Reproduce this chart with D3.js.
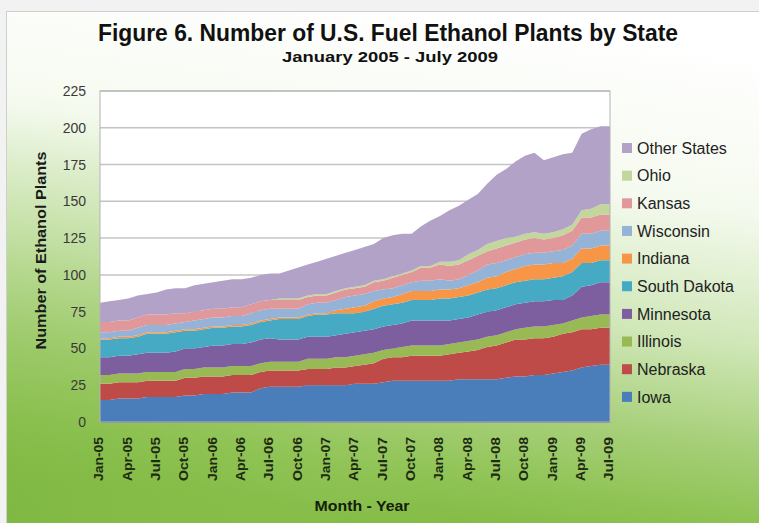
<!DOCTYPE html>
<html>
<head>
<meta charset="utf-8">
<script src="https://cdn.jsdelivr.net/npm/d3@7"></script>
<style>
  html, body { margin: 0; padding: 0; background: #ffffff; }
  svg { display: block; font-family: "Liberation Sans", Arial, Helvetica, sans-serif; }
</style>
</head>
<body>
<svg id="chart" width="759" height="523"></svg>
<script>
// Monthly categories, January 2005 through July 2009
const months = [
  "Jan-05","Feb-05","Mar-05","Apr-05","May-05","Jun-05","Jul-05","Aug-05","Sep-05","Oct-05","Nov-05","Dec-05",
  "Jan-06","Feb-06","Mar-06","Apr-06","May-06","Jun-06","Jul-06","Aug-06","Sep-06","Oct-06","Nov-06","Dec-06",
  "Jan-07","Feb-07","Mar-07","Apr-07","May-07","Jun-07","Jul-07","Aug-07","Sep-07","Oct-07","Nov-07","Dec-07",
  "Jan-08","Feb-08","Mar-08","Apr-08","May-08","Jun-08","Jul-08","Aug-08","Sep-08","Oct-08","Nov-08","Dec-08",
  "Jan-09","Feb-09","Mar-09","Apr-09","May-09","Jun-09","Jul-09"
];

// Labelled months on the category axis
const tickLabels = [
  "Jan-05","Apr-05","Jul-05","Oct-05","Jan-06","Apr-06","Jul-06","Oct-06","Jan-07","Apr-07",
  "Jul-07","Oct-07","Jan-08","Apr-08","Jul-08","Oct-08","Jan-09","Apr-09","Jul-09"
];

const yTicks = [0, 25, 50, 75, 100, 125, 150, 175, 200, 225];

// Plants per state, one value per month (stacked bottom to top)
const iowa = [15,15,16,16,16,17,17,17,17,18, 18,19,19,19,20,20,20,23,24,24, 24,24,25,25,25,25,25,26,26,26,
              27,28,28,28,28,28,28,28,29,29, 29,29,29,30,31,31,32,32,33,34, 35,37,38,39,39];
const nebraska = [11,11,11,11,11,11,11,11,11,12, 12,12,12,12,12,12,12,11,11,11, 11,11,11,11,11,12,12,12,13,14,
                  16,16,16,17,17,17,17,18,18,19, 20,22,23,24,25,25,25,25,25,26, 26,26,25,25,25];
const illinois = [6,6,6,6,6,6,6,6,6,6, 6,6,6,6,6,6,6,6,6,6, 6,6,7,7,7,7,7,7,7,7,
                  6,6,7,7,7,7,7,7,7,7, 7,7,7,7,7,8,8,8,8,7, 8,8,9,9,9];
const minnesota = [12,12,12,12,13,13,13,13,14,14, 14,14,15,15,15,15,16,16,16,15, 15,15,15,15,15,15,16,16,16,16,
                   16,16,16,17,17,17,17,16,16,16, 17,17,17,17,17,17,17,17,17,16, 17,21,21,22,22];
const southDakota = [12,12,12,12,12,13,13,13,13,12, 12,12,12,12,12,12,12,12,12,14, 14,14,14,15,15,15,14,13,13,14,
                     14,14,14,14,14,14,15,15,15,15, 15,15,15,15,15,15,15,15,15,16, 16,16,15,15,15];
const indiana = [1,1,1,1,1,1,1,1,1,1, 1,1,1,1,1,1,1,1,1,1, 1,1,1,1,1,2,3,4,4,5,
                 5,5,6,6,6,6,6,6,6,7, 7,8,8,9,9,10,10,10,10,9, 9,10,10,10,10];
const wisconsin = [4,4,4,4,5,5,5,5,5,5, 6,6,6,6,6,6,7,7,7,6, 6,6,7,7,7,7,8,8,8,7,
                   6,6,6,6,7,7,7,6,6,7, 8,9,9,8,8,8,8,8,8,9, 9,10,10,10,10];
const kansas = [7,7,7,7,7,7,7,7,7,6, 6,6,6,6,6,6,6,6,6,6, 6,6,5,5,5,5,5,5,5,6,
                6,7,7,7,9,9,10,10,10,10, 10,9,10,10,10,10,10,9,9,10, 10,11,11,11,11];
const ohio = [0,0,0,0,0,0,0,0,0,0, 0,0,0,0,0,0,0,0,0,1, 1,1,1,1,1,1,1,1,1,1,
              1,1,1,1,1,1,2,3,3,4, 4,5,5,5,4,4,4,4,4,4, 4,5,6,7,7];
const otherStates = [13,14,14,15,15,14,15,17,17,17, 18,18,18,19,19,19,18,18,18,17, 19,21,21,22,24,24,24,25,26,25,
                     28,28,27,25,27,31,31,35,37,37, 38,41,45,47,51,53,54,50,51,51, 49,52,54,53,53];

const seriesNames = ["Iowa","Nebraska","Illinois","Minnesota","South Dakota","Indiana","Wisconsin","Kansas","Ohio","Other States"];
const seriesValues = [iowa, nebraska, illinois, minnesota, southDakota, indiana, wisconsin, kansas, ohio, otherStates];
const seriesColors = ["#4a7ebb","#be4b48","#98b954","#7d5fa0","#46aac5","#f79646","#95b3d7","#e0989a","#c3d69b","#b3a2c7"];

// ---- layout ----
const W = 759, H = 523;
const plot = { left: 100, right: 610, top: 91, bottom: 422 };

const svg = d3.select("#chart");
const defs = svg.append("defs");

// chart-area fill: white at the top fading to green at the bottom
const bg = defs.append("linearGradient")
  .attr("id", "bgGrad")
  .attr("gradientUnits", "userSpaceOnUse")
  .attr("x1", 450).attr("y1", 11)
  .attr("x2", 380).attr("y2", 523);
bg.append("stop").attr("offset", "0").attr("stop-color", "#ffffff");
bg.append("stop").attr("offset", "0.3").attr("stop-color", "#f5faef");
bg.append("stop").attr("offset", "0.56").attr("stop-color", "#d0e7b8");
bg.append("stop").attr("offset", "0.76").attr("stop-color", "#a6cf78");
bg.append("stop").attr("offset", "0.9").attr("stop-color", "#8ec353");
bg.append("stop").attr("offset", "1").attr("stop-color", "#82bb44");

// extra green toward the lower left corner
const glow = defs.append("radialGradient")
  .attr("id", "leftGlow")
  .attr("gradientUnits", "userSpaceOnUse")
  .attr("cx", 0).attr("cy", 523).attr("r", 430);
glow.append("stop").attr("offset", "0").attr("stop-color", "#7db640").attr("stop-opacity", 0.55);
glow.append("stop").attr("offset", "0.6").attr("stop-color", "#8fc354").attr("stop-opacity", 0.3);
glow.append("stop").attr("offset", "1").attr("stop-color", "#a6cf78").attr("stop-opacity", 0);

svg.append("rect").attr("width", W).attr("height", H).attr("fill", "#f2f2f2");
svg.append("rect")
  .attr("x", 6.5).attr("y", 11.5)
  .attr("width", W - 6).attr("height", H - 11)
  .attr("fill", "url(#bgGrad)")
  .attr("stroke", "#cfcfcf");
svg.append("rect")
  .attr("x", 7).attr("y", 12)
  .attr("width", W - 7).attr("height", H - 12)
  .attr("fill", "url(#leftGlow)");

// ---- scales ----
const x = d3.scalePoint().domain(months).range([plot.left, plot.right]);
const y = d3.scaleLinear().domain([0, 225]).range([plot.bottom, plot.top]);

// ---- plot area ----
svg.append("rect")
  .attr("x", plot.left).attr("y", plot.top)
  .attr("width", plot.right - plot.left).attr("height", plot.bottom - plot.top)
  .attr("fill", "#ffffff");

svg.append("g")
  .selectAll("line")
  .data(yTicks.filter(d => d > 0))
  .join("line")
  .attr("x1", plot.left).attr("x2", plot.right)
  .attr("y1", d => y(d)).attr("y2", d => y(d))
  .attr("stroke", "#c4c4c4")
  .attr("stroke-width", 1.5);

// ---- stacked areas ----
const table = months.map((m, i) => {
  const row = { month: m };
  seriesNames.forEach((name, k) => { row[name] = seriesValues[k][i]; });
  return row;
});

const stacked = d3.stack().keys(seriesNames)(table);

const area = d3.area()
  .x(d => x(d.data.month))
  .y0(d => y(d[0]))
  .y1(d => y(d[1]));

svg.append("g")
  .selectAll("path")
  .data(stacked)
  .join("path")
  .attr("d", area)
  .attr("fill", (d, i) => seriesColors[i]);

// plot frame
svg.append("rect")
  .attr("x", plot.left).attr("y", plot.top)
  .attr("width", plot.right - plot.left).attr("height", plot.bottom - plot.top)
  .attr("fill", "none")
  .attr("stroke", "#b4b4b4")
  .attr("stroke-width", 1);

// ---- axes ----
const yAxis = d3.axisLeft(y).tickValues(yTicks).tickSize(0).tickPadding(14);
const gy = svg.append("g").attr("transform", `translate(${plot.left},0)`).call(yAxis);
gy.select(".domain").remove();
gy.selectAll("text")
  .attr("font-family", "'Liberation Sans', Arial, sans-serif")
  .attr("font-size", 14)
  .attr("fill", "#3a3a3a");

const xAxis = d3.axisBottom(x).tickValues(tickLabels).tickSize(0).tickPadding(0);
const gx = svg.append("g").attr("transform", `translate(0,${plot.bottom})`).call(xAxis);
gx.select(".domain").attr("stroke", "#9a9a9a");
gx.selectAll("text")
  .attr("font-family", "'Liberation Sans', Arial, sans-serif")
  .attr("font-size", 13)
  .attr("font-weight", "bold")
  .attr("fill", "#1e2a12")
  .attr("text-anchor", "end")
  .attr("transform", "rotate(-90)")
  .attr("x", -15)
  .attr("y", -2)
  .attr("dy", "0.36em")
  .attr("textLength", 44)
  .attr("lengthAdjust", "spacingAndGlyphs");

// ---- titles ----
svg.append("text")
  .attr("x", 388).attr("y", 41)
  .attr("text-anchor", "middle")
  .attr("font-size", 23.5)
  .attr("font-weight", "bold")
  .attr("fill", "#111")
  .attr("textLength", 580)
  .attr("lengthAdjust", "spacingAndGlyphs")
  .text("Figure 6. Number of U.S. Fuel Ethanol Plants by State");

svg.append("text")
  .attr("x", 390).attr("y", 62)
  .attr("text-anchor", "middle")
  .attr("font-size", 15.5)
  .attr("font-weight", "bold")
  .attr("fill", "#111")
  .attr("textLength", 216)
  .attr("lengthAdjust", "spacingAndGlyphs")
  .text("January 2005 - July 2009");

svg.append("text")
  .attr("transform", `translate(46,${(plot.top + plot.bottom) / 2 - 6}) rotate(-90)`)
  .attr("text-anchor", "middle")
  .attr("font-size", 14)
  .attr("font-weight", "bold")
  .attr("fill", "#1a1a1a")
  .attr("textLength", 198)
  .attr("lengthAdjust", "spacingAndGlyphs")
  .text("Number of Ethanol Plants");

svg.append("text")
  .attr("x", 362).attr("y", 511)
  .attr("text-anchor", "middle")
  .attr("font-size", 14.5)
  .attr("font-weight", "bold")
  .attr("fill", "#14200a")
  .attr("textLength", 95)
  .attr("lengthAdjust", "spacingAndGlyphs")
  .text("Month - Year");

// ---- legend (top entry is the top layer) ----
const legendOrder = seriesNames.map((n, i) => i).reverse();
const legend = svg.append("g")
  .selectAll("g")
  .data(legendOrder)
  .join("g")
  .attr("transform", (d, j) => `translate(622,${148 + j * 27.65})`);

legend.append("rect")
  .attr("x", 0).attr("y", -5)
  .attr("width", 10).attr("height", 10)
  .attr("fill", d => seriesColors[d]);

legend.append("text")
  .attr("x", 15).attr("y", 0)
  .attr("dy", "0.36em")
  .attr("font-size", 16)
  .attr("fill", "#222")
  .text(d => seriesNames[d]);
</script>
</body>
</html>
